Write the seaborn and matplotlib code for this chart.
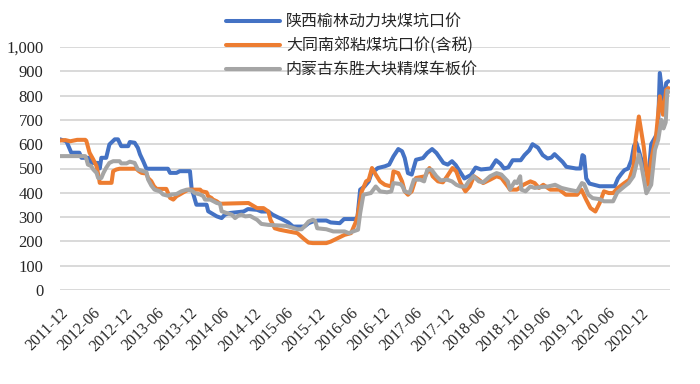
import numpy as np
import pandas as pd
import matplotlib
matplotlib.use("Agg")
import matplotlib.pyplot as plt
from matplotlib.font_manager import FontProperties
import seaborn as sns

# ---- data (x = months since 2011-12, y = price, yuan/t) ----
series_names = ["陕西榆林动力块煤坑口价", "大同南郊粘煤坑口价(含税)", "内蒙古东胜大块精煤车板价"]

blue_m = [0, 1.2, 2.1, 3.6, 4.0, 5.5, 5.8, 7.1, 7.4, 7.7, 8.6, 9.2, 10.2, 10.8, 11.4, 12.7, 13.0, 13.9, 14.5,
          14.9, 15.5, 16.1, 20.1, 20.5, 21.7, 22.3, 24.2, 24.5, 25.4, 27.3, 27.6, 29.2, 30.1, 30.7, 31.7, 34.2,
          35.0, 36.7, 37.5, 38.8, 39.6, 40.5, 41.3, 42.5, 43.4, 45.5, 46.3, 47.1, 48.0, 49.6, 50.4, 52.1, 52.9,
          55.0, 55.4, 55.9, 56.7, 57.5, 58.0, 59.2, 60.5, 61.3, 62.1, 63.0, 63.7, 64.2, 64.8, 65.5, 66.3, 67.6,
          68.4, 69.3, 70.1, 71.4, 72.2, 73.0, 73.7, 75.3, 76.5, 77.4, 78.4, 80.2, 81.2, 82.0, 82.7, 83.5, 84.3,
          85.8, 86.5, 87.4, 88.0, 89.0, 89.9, 90.8, 91.5, 92.1, 93.6, 94.3, 96.1, 96.9, 97.3, 97.6, 98.0, 98.6,
          100.5, 103.3, 103.9, 104.5, 105.1, 105.8, 106.4, 106.9, 107.3, 107.8, 108.3, 108.8, 109.4, 109.8,
          110.1, 110.8, 111.1, 111.4, 111.7, 112.0, 112.3, 112.6, 112.9, 113.3]
blue_v = [620, 612, 565, 565, 544, 544, 523, 523, 500, 544, 544, 599, 620, 620, 592, 592, 609, 606, 585,
          558, 530, 499, 499, 482, 482, 489, 489, 420, 351, 351, 324, 303, 296, 310, 317, 323,
          333, 330, 323, 323, 310, 300, 292, 278, 261, 261, 275, 282, 286, 286, 278, 275, 292,
          292, 300, 413, 426, 447, 481, 502, 509, 516, 550, 580, 571, 543, 481, 475, 536, 543,
          564, 580, 564, 523, 516, 530, 514, 459, 473, 504, 496, 500, 534, 520, 500, 505, 534,
          534, 555, 575, 600, 586, 555, 541, 545, 559, 527, 507, 500, 500, 555, 550, 459, 438,
          427, 427, 459, 477, 493, 500, 534, 593, 607, 573, 534, 514, 473, 520,
          600, 627, 640, 686, 893, 838, 784, 800, 852, 859]

orange_m = [0, 1.0, 1.9, 3.2, 4.7, 4.9, 5.5, 6.2, 6.8, 7.3, 7.4, 9.6, 9.9, 10.5, 11.1, 14.2, 14.7, 15.2, 16.1,
            16.4, 17.0, 17.5, 18.0, 19.8, 20.5, 21.1, 21.7, 22.3, 23.3, 23.9, 26.1, 26.4, 27.3, 27.6, 28.2,
            28.5, 29.2, 29.8, 35.1, 36.7, 37.9, 38.8, 39.2, 40.0, 40.9, 42.5, 44.2, 45.5, 46.3, 47.1, 49.6,
            50.4, 51.7, 53.0, 54.2, 55.0, 55.4, 56.2, 57.0, 57.5, 58.1, 58.8, 59.6, 60.5, 61.7, 62.1, 63.0,
            63.7, 64.2, 64.8, 65.5, 66.3, 68.0, 68.8, 69.4, 70.4, 71.3, 72.1, 73.1, 73.8, 74.6, 75.5, 76.3,
            77.1, 78.0, 78.8, 80.1, 81.3, 82.2, 83.4, 83.8, 85.1, 86.3, 87.6, 88.4, 89.2, 90.0, 91.3, 93.0,
            94.2, 96.3, 97.1, 98.0, 98.8, 99.7, 100.5, 101.3, 102.2, 103.0, 103.9, 105.1, 106.0, 106.8,
            107.2, 107.8, 108.7, 109.5, 110.1, 111.0, 111.7, 112.3, 112.9, 113.3]
orange_v = [615, 617, 612, 618, 618, 614, 565, 537, 510, 455, 441, 441, 489, 496, 499, 499, 489, 482, 479,
            461, 448, 427, 416, 416, 379, 372, 386, 393, 406, 413, 413, 406, 402, 386, 379,
            372, 365, 355, 358, 337, 337, 323, 289, 254, 248, 241, 234, 209, 195, 193, 193,
            199, 213, 227, 234, 275, 303, 406, 447, 454, 502, 475, 447, 433, 426, 488, 481,
            447, 406, 392, 406, 461, 468, 502, 468, 447, 443, 468, 502, 488, 440, 406, 426,
            468, 454, 440, 454, 468, 461, 426, 413, 413, 433, 447, 440, 420, 433, 413, 413,
            392, 392, 413, 371, 337, 323, 358, 406, 399, 399, 420, 440, 454, 509,
            619, 714, 591, 433, 536, 632, 797, 721, 824, 831]

gray_m = [0, 4.7, 4.9, 5.2, 5.8, 6.2, 6.8, 7.1, 7.7, 8.1, 8.6, 9.2, 9.9, 11.1, 11.4, 12.4, 13.0, 13.9, 14.2,
          14.5, 15.5, 16.1, 16.4, 17.0, 17.6, 18.6, 19.2, 20.1, 20.8, 21.7, 22.6, 23.6, 24.5, 25.1, 26.1,
          26.7, 27.0, 28.0, 28.6, 29.2, 29.8, 30.1, 31.0, 32.0, 32.6, 33.2, 33.8, 34.5, 35.4, 36.7, 37.5,
          38.8, 42.1, 42.9, 44.2, 45.0, 45.5, 46.3, 47.1, 47.5, 47.9, 49.6, 50.9, 53.0, 53.8, 54.6, 55.5,
          55.9, 56.5, 57.9, 58.8, 59.6, 60.9, 61.7, 62.1, 63.4, 63.8, 64.2, 65.1, 65.9, 67.1, 67.8, 68.4,
          69.2, 70.1, 70.9, 72.1, 73.0, 73.8, 74.6, 75.5, 76.1, 77.0, 78.0, 78.8, 80.1, 81.3, 82.2, 83.4,
          83.8, 84.7, 85.1, 85.7, 85.9, 86.7, 87.6, 88.4, 89.7, 90.9, 92.2, 93.4, 94.7, 96.3, 97.2, 97.6,
          98.4, 99.2, 100.5, 101.3, 103.0, 103.8, 105.1, 105.9, 106.8, 107.8, 108.3, 109.2, 110.1, 110.8,
          111.4, 112.0, 112.4, 112.8, 113.1, 113.3]
gray_v = [551, 551, 540, 516, 510, 496, 482, 461, 461, 482, 503, 523, 530, 530, 521, 521, 528, 523, 510,
          496, 489, 485, 455, 430, 413, 406, 393, 388, 393, 395, 406, 413, 410, 399, 393,
          386, 372, 372, 365, 358, 355, 324, 317, 310, 296, 306, 310, 303, 305, 289, 272,
          268, 264, 259, 250, 250, 261, 282, 289, 285, 254, 250, 241, 241, 234, 241, 248,
          316, 392, 399, 426, 406, 402, 406, 440, 436, 426, 406, 399, 454, 454, 447, 495,
          495, 468, 451, 454, 447, 433, 426, 426, 447, 468, 447, 443, 468, 481, 475, 447,
          413, 447, 440, 468, 413, 406, 426, 420, 424, 426, 433, 420, 413, 406, 440, 436,
          392, 378, 374, 365, 365, 402, 426, 440, 468, 557, 509, 398, 433, 577,
          618, 700, 665, 690, 820, 815]

y_ticks = [0, 100, 200, 300, 400, 500, 600, 700, 800, 900, 1000]
x_tick_labels = ["2011-12", "2012-06", "2012-12", "2013-06", "2013-12", "2014-06", "2014-12", "2015-06",
                 "2015-12", "2016-06", "2016-12", "2017-06", "2017-12", "2018-06", "2018-12", "2019-06",
                 "2019-12", "2020-06", "2020-12"]
colors = ["#4472C4", "#ED7D31", "#A5A5A5"]

# ---- build long table ----
start = pd.Timestamp("2011-12-01")
def to_dates(m):
    return start + pd.to_timedelta(np.asarray(m) * 30.4375, unit="D")

frames = []
for name, m, v in zip(series_names, [blue_m, orange_m, gray_m], [blue_v, orange_v, gray_v]):
    frames.append(pd.DataFrame({"date": to_dates(m), "price": v, "series": name}))
df = pd.concat(frames, ignore_index=True)

sns.set_style("white")
plt.rcParams["font.family"] = ["Liberation Serif", "DejaVu Serif"]

fig = plt.figure(figsize=(7.0, 3.84), dpi=100)
ax = fig.add_axes([60 / 700, 1 - 290 / 384, 610 / 700, 243 / 384])

sns.lineplot(data=df, x="date", y="price", hue="series", hue_order=series_names,
             palette=colors, estimator=None, sort=False, linewidth=2.9, ax=ax,
             solid_joinstyle="round", solid_capstyle="round")

ax.set_ylim(0, 1000)
ax.set_xlim(to_dates([0])[0], to_dates([113.6])[0])
ax.set_yticks(y_ticks)
ax.set_yticklabels([f"{t:,}" for t in y_ticks], fontsize=12, family=["Liberation Serif"])
tick_dates = pd.date_range("2011-12-01", periods=len(x_tick_labels), freq="6MS")
ax.set_xticks(tick_dates)
ax.set_xticklabels(x_tick_labels, rotation=45, ha="right", va="top", rotation_mode="anchor",
                   fontsize=11.5, family=["Liberation Serif"])
ax.tick_params(axis="both", length=0)
ax.tick_params(axis="y", pad=12)
ax.tick_params(axis="x", pad=11)
ax.set_xlabel("")
ax.set_ylabel("")
for s in ax.spines.values():
    s.set_visible(False)
ax.yaxis.grid(True, color="#D9D9D9", linewidth=1.4)
ax.xaxis.grid(False)
ax.set_axisbelow(True)

handles, labels = ax.get_legend_handles_labels()
ax.get_legend().remove()
leg = fig.legend(handles, labels, loc="upper left", bbox_to_anchor=(226 / 700, 1 - 14 / 384),
                 frameon=False, prop=FontProperties(family=["Noto Sans CJK SC", "DejaVu Sans"], size=11.5),
                 handlelength=3.4, handletextpad=0.35, labelspacing=0.44, borderpad=0, borderaxespad=0)
for line in leg.get_lines():
    line.set_linewidth(2.9)

fig.savefig("out.png", dpi=100)
